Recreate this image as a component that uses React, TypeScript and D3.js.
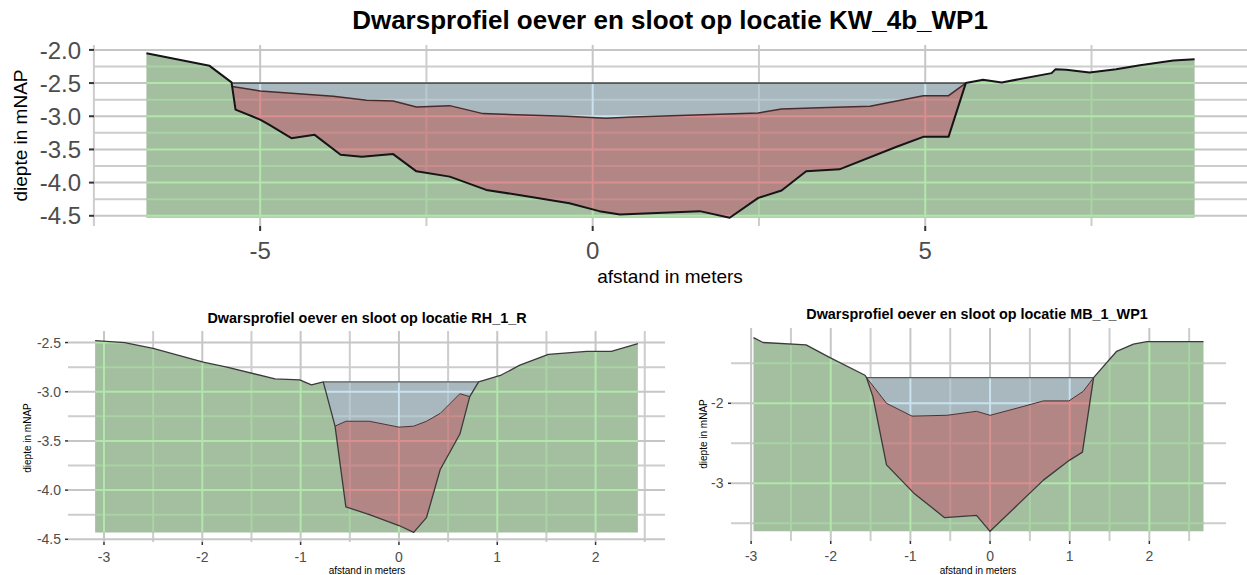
import React from 'react';
import * as d3 from 'd3';

type P = [number, number];

// ---------- KW_4b_WP1 (top) ----------
const kwGround: P[] = [
  [-6.71, -2.05], [-5.76, -2.24], [-5.43, -2.49], [-5.37, -2.9], [-5.0, -3.05], [-4.86, -3.13],
  [-4.53, -3.33], [-4.18, -3.28], [-3.79, -3.58], [-3.47, -3.61], [-3.0, -3.57], [-2.65, -3.83],
  [-2.15, -3.91], [-1.6, -4.11], [-0.9, -4.22], [-0.35, -4.31], [0.1, -4.43], [0.41, -4.48], [1.61, -4.43],
  [2.06, -4.53], [2.49, -4.23], [2.84, -4.12], [3.21, -3.83], [3.71, -3.8], [4.57, -3.46],
  [4.97, -3.31], [5.35, -3.31], [5.61, -2.5], [5.87, -2.45], [6.15, -2.49], [6.9, -2.35],
  [6.96, -2.29], [7.12, -2.3], [7.47, -2.34], [7.87, -2.29], [8.23, -2.23], [8.73, -2.16], [9.05, -2.14],
];
const kwSludge: P[] = [
  [-5.42, -2.55], [-5.0, -2.62], [-3.9, -2.7], [-3.4, -2.76], [-3.0, -2.77], [-2.65, -2.86],
  [-2.15, -2.84], [-1.65, -2.96], [-0.4, -3.0], [0.2, -3.03], [0.6, -3.01], [2.49, -2.95],
  [2.84, -2.89], [3.41, -2.87], [4.17, -2.85], [4.97, -2.69], [5.35, -2.69], [5.61, -2.5],
];
const kwWaterLevel = -2.5;
const kwWaterLeft = -5.43;
const kwWaterRight = 5.61;
const kwXMajor = [-5, 0, 5];
const kwXLabels = ['-5', '0', '5'];
const kwXMinor = [-7.5, -2.5, 2.5, 7.5];
const kwYMajor = [-4.5, -4, -3.5, -3, -2.5, -2];
const kwYLabels = ['-4.5', '-4.0', '-3.5', '-3.0', '-2.5', '-2.0'];
const kwYMinor = [-4.25, -3.75, -3.25, -2.75, -2.25];

// ---------- RH_1_R (bottom left) ----------
const rhGround: P[] = [
  [-3.09, -2.48], [-2.79, -2.5], [-2.5, -2.56], [-1.99, -2.7], [-1.75, -2.75], [-1.26, -2.87],
  [-1.01, -2.88], [-0.89, -2.93], [-0.77, -2.9], [-0.65, -3.35], [-0.54, -4.17], [-0.3, -4.25],
  [0.0, -4.36], [0.15, -4.43], [0.28, -4.28], [0.42, -3.79], [0.62, -3.43], [0.72, -3.05],
  [0.81, -2.9], [1.04, -2.83], [1.23, -2.73], [1.52, -2.62], [1.91, -2.59], [2.16, -2.59], [2.43, -2.51],
];
const rhSludge: P[] = [
  [-0.65, -3.35], [-0.54, -3.3], [-0.3, -3.3], [0.0, -3.36], [0.15, -3.35], [0.28, -3.3],
  [0.42, -3.22], [0.62, -3.02], [0.72, -3.05],
];
const rhWaterLevel = -2.9;
const rhWaterLeft = -0.77;
const rhWaterRight = 0.81;
const rhXMajor = [-3, -2, -1, 0, 1, 2];
const rhXLabels = ['-3', '-2', '-1', '0', '1', '2'];
const rhXMinor = [-2.5, -1.5, -0.5, 0.5, 1.5, 2.5];
const rhYMajor = [-4.5, -4, -3.5, -3, -2.5];
const rhYLabels = ['-4.5', '-4.0', '-3.5', '-3.0', '-2.5'];
const rhYMinor = [-4.25, -3.75, -3.25, -2.75];

// ---------- MB_1_WP1 (bottom right) ----------
const mbGround: P[] = [
  [-2.97, -1.18], [-2.85, -1.24], [-2.31, -1.27], [-2.01, -1.43], [-1.57, -1.65], [-1.55, -1.68],
  [-1.47, -1.92], [-1.3, -2.77], [-0.96, -3.12], [-0.57, -3.43], [-0.17, -3.4], [0.0, -3.6],
  [0.67, -2.96], [1.0, -2.71], [1.16, -2.61], [1.3, -1.68], [1.59, -1.35], [1.8, -1.26],
  [1.97, -1.23], [2.68, -1.23],
];
const mbSludge: P[] = [
  [-1.55, -1.68], [-1.3, -2.0], [-0.98, -2.16], [-0.54, -2.15], [-0.17, -2.1], [0.0, -2.15],
  [0.34, -2.06], [0.67, -1.97], [0.99, -1.97], [1.17, -1.85], [1.3, -1.68],
];
const mbWaterLevel = -1.68;
const mbWaterLeft = -1.55;
const mbWaterRight = 1.3;
const mbXMajor = [-3, -2, -1, 0, 1, 2];
const mbXLabels = ['-3', '-2', '-1', '0', '1', '2'];
const mbXMinor = [-2.5, -1.5, -0.5, 0.5, 1.5, 2.5];
const mbYMajor = [-3, -2];
const mbYLabels = ['-3', '-2'];
const mbYMinor = [-3.5, -2.5, -1.5];

const FONT = '"Liberation Sans", Arial, Helvetica, sans-serif';

interface Box { l: number; r: number; t: number; b: number; }
interface Sty {
  tick: number; tickLen: number; tickFont: number; yLabGap: number; xLabBase: number;
  titleFont: number; titleX: number; titleY: number;
  axFont: number; xTitleX: number; xTitleY: number; yTitleX: number; yTitleY: number;
  grid: number; lineW: number; lineC: string;
}

function Profile(props: {
  id: string; title: string; ground: P[]; sludge: P[]; level: number; left: number; right: number;
  xMajor: number[]; xLabels: string[]; xMinor: number[]; yMajor: number[]; yLabels: string[]; yMinor: number[];
  box: Box; s: Sty;
}) {
  const { id, title, ground, sludge, level, left, right, xMajor, xLabels, xMinor, yMajor, yLabels, yMinor, box, s } = props;
  const [x0, x1] = d3.extent(ground, d => d[0]) as [number, number];
  const [z0, z1] = d3.extent(ground, d => d[1]) as [number, number];
  const ex = (x1 - x0) * 0.05;
  const ez = (z1 - z0) * 0.05;
  const x = d3.scaleLinear().domain([x0 - ex, x1 + ex]).range([box.l, box.r]);
  const y = d3.scaleLinear().domain([z0 - ez, z1 + ez]).range([box.b, box.t]);
  const line = d3.line<P>().x(d => x(d[0])).y(d => y(d[1]));
  const area = d3.area<P>().x(d => x(d[0])).y0(y(z0)).y1(d => y(d[1]));

  const sStart = sludge[0][0];
  const sEnd = sludge[sludge.length - 1][0];
  const inner = ground.filter(d => d[0] > sStart && d[0] < sEnd);
  const redPts: P[] = [...sludge, ...inner.slice().reverse()];
  const bed: P[] = [
    ...ground.filter(d => d[0] >= left && d[0] < sStart),
    ...sludge,
    ...ground.filter(d => d[0] > sEnd && d[0] <= right),
  ];
  const bluePts: P[] = [[left, level], [right, level], ...bed.slice().reverse()];

  const greenD = area(ground) as string;
  const redD = (line(redPts) as string) + 'Z';
  const blueD = (line(bluePts) as string) + 'Z';

  const grid = (major: string, minor: string) => (
    <g>
      {yMinor.map(v => <line key={'ym' + v} x1={box.l} x2={box.r} y1={y(v)} y2={y(v)} stroke={minor} strokeWidth={s.grid} />)}
      {xMinor.map(v => <line key={'xm' + v} x1={x(v)} x2={x(v)} y1={box.t} y2={box.b} stroke={minor} strokeWidth={s.grid} />)}
      {yMajor.map(v => <line key={'yM' + v} x1={box.l} x2={box.r} y1={y(v)} y2={y(v)} stroke={major} strokeWidth={s.grid} />)}
      {xMajor.map(v => <line key={'xM' + v} x1={x(v)} x2={x(v)} y1={box.t} y2={box.b} stroke={major} strokeWidth={s.grid} />)}
    </g>
  );

  return (
    <g fontFamily={FONT}>
      <defs>
        <clipPath id={id + 'g'}><path d={greenD} /></clipPath>
        <clipPath id={id + 'r'}><path d={redD} /></clipPath>
        <clipPath id={id + 'b'}><path d={blueD} /></clipPath>
      </defs>
      {grid('#c6c6c6', '#cdcdcd')}
      <path d={greenD} fill="#a3bfa0" />
      <path d={redD} fill="#b38686" />
      <path d={blueD} fill="#a9b8be" />
      <g clipPath={`url(#${id}g)`}>{grid('#b2e6aa', '#a9d3a4')}</g>
      <g clipPath={`url(#${id}r)`}>{grid('#d98f8f', '#c78d8d')}</g>
      <g clipPath={`url(#${id}b)`}>{grid('#c8e3ee', '#b8c9d0')}</g>
      <line x1={x(left)} x2={x(right)} y1={y(level)} y2={y(level)} stroke="#5a5a5a" strokeWidth={s.lineW * 0.9} />
      <path d={line(sludge) as string} fill="none" stroke="#4a2a2a" strokeWidth={s.lineW * 0.75} />
      <path d={line(ground) as string} fill="none" stroke={s.lineC} strokeWidth={s.lineW} strokeLinejoin="round" />
      {/* ticks */}
      {yMajor.map(v => <line key={'ty' + v} x1={box.l - s.tickLen} x2={box.l} y1={y(v)} y2={y(v)} stroke="#333" strokeWidth={s.tick} />)}
      {xMajor.map(v => <line key={'tx' + v} x1={x(v)} x2={x(v)} y1={box.b} y2={box.b + s.tickLen} stroke="#333" strokeWidth={s.tick} />)}
      {yMajor.map((v, i) => (
        <text key={'ly' + v} x={box.l - s.yLabGap} y={y(v)} dy="0.36em" textAnchor="end" fontSize={s.tickFont} fill="#4d4d4d">{yLabels[i]}</text>
      ))}
      {xMajor.map((v, i) => (
        <text key={'lx' + v} x={x(v)} y={s.xLabBase} textAnchor="middle" fontSize={s.tickFont} fill="#4d4d4d">{xLabels[i]}</text>
      ))}
      <text x={s.titleX} y={s.titleY} textAnchor="middle" fontSize={s.titleFont} fontWeight="bold" fill="#000">{title}</text>
      <text x={s.xTitleX} y={s.xTitleY} textAnchor="middle" fontSize={s.axFont} fill="#000">afstand in meters</text>
      <text transform={`translate(${s.yTitleX},${s.yTitleY}) rotate(-90)`} textAnchor="middle" fontSize={s.axFont} fill="#000">diepte in mNAP</text>
    </g>
  );
}

export default function App() {
  return (
    <svg width={1247} height={575} style={{ position: 'absolute', left: 0, top: 0, display: 'block', background: '#fff' }}>
      <rect width={1247} height={575} fill="#fff" />
      <Profile
        id="kw" title="Dwarsprofiel oever en sloot op locatie KW_4b_WP1"
        ground={kwGround} sludge={kwSludge} level={kwWaterLevel} left={kwWaterLeft} right={kwWaterRight}
        xMajor={kwXMajor} xLabels={kwXLabels} xMinor={kwXMinor} yMajor={kwYMajor} yLabels={kwYLabels} yMinor={kwYMinor}
        box={{ l: 94, r: 1247, t: 45, b: 226 }}
        s={{ tick: 2, tickLen: 5, tickFont: 24, yLabGap: 13, xLabBase: 259, titleFont: 26, titleX: 670, titleY: 29,
          axFont: 19, xTitleX: 670, xTitleY: 283, yTitleX: 27, yTitleY: 135.5, grid: 2, lineW: 2, lineC: '#151515' }}
      />
      <Profile
        id="rh" title="Dwarsprofiel oever en sloot op locatie RH_1_R"
        ground={rhGround} sludge={rhSludge} level={rhWaterLevel} left={rhWaterLeft} right={rhWaterRight}
        xMajor={rhXMajor} xLabels={rhXLabels} xMinor={rhXMinor} yMajor={rhYMajor} yLabels={rhYLabels} yMinor={rhYMinor}
        box={{ l: 68, r: 665, t: 331, b: 542 }}
        s={{ tick: 1.5, tickLen: 3, tickFont: 14, yLabGap: 7, xLabBase: 561.5, titleFont: 14.4, titleX: 367, titleY: 323,
          axFont: 10, xTitleX: 367, xTitleY: 574, yTitleX: 31, yTitleY: 438, grid: 2, lineW: 1.3, lineC: '#3a3a3a' }}
      />
      <Profile
        id="mb" title="Dwarsprofiel oever en sloot op locatie MB_1_WP1"
        ground={mbGround} sludge={mbSludge} level={mbWaterLevel} left={mbWaterLeft} right={mbWaterRight}
        xMajor={mbXMajor} xLabels={mbXLabels} xMinor={mbXMinor} yMajor={mbYMajor} yLabels={mbYLabels} yMinor={mbYMinor}
        box={{ l: 731, r: 1226, t: 328, b: 541 }}
        s={{ tick: 1.5, tickLen: 3, tickFont: 14, yLabGap: 7.5, xLabBase: 561, titleFont: 14.4, titleX: 977, titleY: 319,
          axFont: 10, xTitleX: 978, xTitleY: 574, yTitleX: 707, yTitleY: 434, grid: 2, lineW: 1.3, lineC: '#3a3a3a' }}
      />
    </svg>
  );
}
